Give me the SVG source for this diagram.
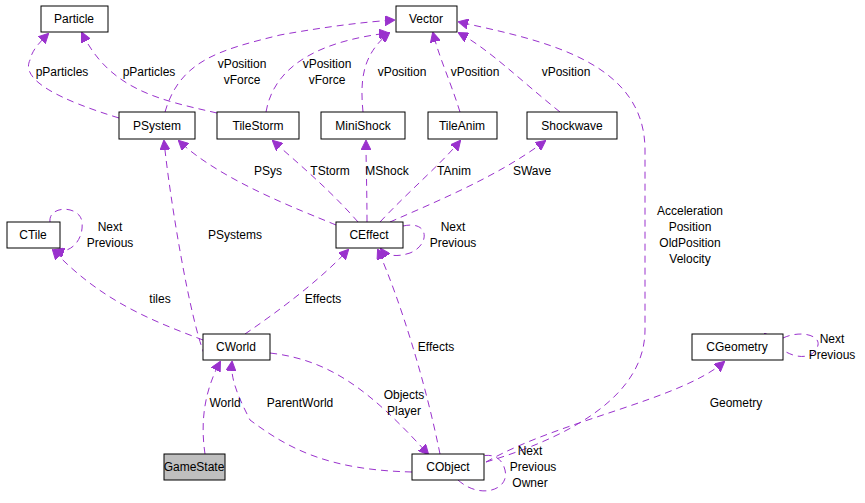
<svg xmlns="http://www.w3.org/2000/svg" width="865" height="503" viewBox="0 0 865 503">
<style>
.n rect{fill:#fff;stroke:#000;stroke-width:1}
.n text,.l{font-family:"Liberation Sans",Arial,sans-serif;font-size:12px;fill:#000}
.n text{text-anchor:middle}
.l{text-anchor:middle}
.e path{fill:none;stroke:#9a32cd;stroke-width:1;stroke-dasharray:7,5;marker-end:url(#a)}
</style>
<defs><marker id="a" markerWidth="10" markerHeight="10" refX="9" refY="5" orient="auto" markerUnits="userSpaceOnUse"><path d="M0,0 L10,5 L0,10 z" fill="#9a32cd" stroke="#9a32cd"/></marker></defs>
<rect width="865" height="503" fill="#fff"/>
<g class="e">
<path d="M119,118 C60,100 20,80 30,60 C32,50 40,42 48,34"/>
<path d="M217,113 C160,100 110,90 82,33"/>
<path d="M165,112 C180,60 220,50 280,35 C330,26 365,22 394,20"/>
<path d="M266,112 C275,60 330,40 388,33"/>
<path d="M363,112 C360,80 362,55 389,33"/>
<path d="M460,112 C450,80 440,60 433,33"/>
<path d="M560,112 C520,80 490,50 459,33"/>
<path d="M336,225 C300,210 220,180 179,141"/>
<path d="M358,222 C330,190 300,165 273,141"/>
<path d="M367,222 C367,190 366,165 366,141"/>
<path d="M380,222 C410,190 440,165 460,141"/>
<path d="M390,222 C440,200 500,175 545,141"/>
<path d="M403,226 C430,220 430,245 410,253 C395,258 385,255 381,249"/>
<path d="M205,356 C190,320 170,200 164,141"/>
<path d="M245,334 C280,310 320,280 348,250"/>
<path d="M203,340 C150,320 100,300 53,250"/>
<path d="M50,222 C48,205 80,205 82,222 C84,240 70,255 55,250"/>
<path d="M440,454 C425,380 400,300 378,250"/>
<path d="M486,462 C560,440 645,400 645,330 L645,150 C645,60 540,40 459,22"/>
<path d="M486,462 C560,420 680,400 724,362"/>
<path d="M783,338 C800,330 820,335 818,345 C815,360 790,364 765,334"/>
<path d="M412,472 C330,470 290,450 250,420 C240,400 230,380 232,362"/>
<path d="M270,353 C330,360 370,390 428,454"/>
<path d="M205,454 C200,420 205,390 220,362"/>
<path d="M458,480 C480,500 510,490 505,470 C500,450 480,453 465,464"/>
</g>
<g class="l">
<text x="62" y="76">pParticles</text>
<text x="149" y="76">pParticles</text>
<text x="242" y="68">vPosition</text><text x="242" y="84">vForce</text>
<text x="327" y="68">vPosition</text><text x="327" y="84">vForce</text>
<text x="402" y="76">vPosition</text>
<text x="475" y="76">vPosition</text>
<text x="566" y="76">vPosition</text>
<text x="268" y="175">PSys</text>
<text x="330" y="175">TStorm</text>
<text x="387" y="175">MShock</text>
<text x="454" y="175">TAnim</text>
<text x="532" y="175">SWave</text>
<text x="453" y="231">Next</text><text x="453" y="247">Previous</text>
<text x="110" y="231">Next</text><text x="110" y="247">Previous</text>
<text x="235" y="239">PSystems</text>
<text x="160" y="303">tiles</text>
<text x="323" y="303">Effects</text>
<text x="690" y="215">Acceleration</text><text x="690" y="231">Position</text><text x="690" y="247">OldPosition</text><text x="690" y="263">Velocity</text>
<text x="436" y="351">Effects</text>
<text x="832" y="343">Next</text><text x="832" y="359">Previous</text>
<text x="404" y="399">Objects</text><text x="404" y="415">Player</text>
<text x="225" y="407">World</text>
<text x="300" y="407">ParentWorld</text>
<text x="736" y="407">Geometry</text>
<text x="530" y="455">Next</text><text x="533" y="471">Previous</text><text x="530" y="487">Owner</text>
</g>
<g id="Particle" class="n"><rect x="41" y="6" width="67" height="26"/><text x="74" y="23">Particle</text></g>
<g id="Vector" class="n"><rect x="396" y="6" width="61" height="26"/><text x="426" y="23">Vector</text></g>
<g id="PSystem" class="n"><rect x="119" y="112" width="76" height="27"/><text x="157" y="130">PSystem</text></g>
<g id="TileStorm" class="n"><rect x="217" y="112" width="82" height="27"/><text x="258" y="130">TileStorm</text></g>
<g id="MiniShock" class="n"><rect x="321" y="112" width="84" height="27"/><text x="363" y="130">MiniShock</text></g>
<g id="TileAnim" class="n"><rect x="428" y="112" width="69" height="27"/><text x="462" y="130">TileAnim</text></g>
<g id="Shockwave" class="n"><rect x="527" y="112" width="90" height="27"/><text x="572" y="130">Shockwave</text></g>
<g id="CTile" class="n"><rect x="7" y="222" width="53" height="26"/><text x="33" y="239">CTile</text></g>
<g id="CEffect" class="n"><rect x="336" y="222" width="67" height="26"/><text x="369" y="239">CEffect</text></g>
<g id="CWorld" class="n"><rect x="203" y="334" width="67" height="26"/><text x="236" y="351">CWorld</text></g>
<g id="CGeometry" class="n"><rect x="692" y="334" width="91" height="26"/><text x="737" y="351">CGeometry</text></g>
<g id="GameState" class="n"><rect x="164" y="454" width="61" height="26" style="fill:#bfbfbf"/><text x="194" y="471">GameState</text></g>
<g id="CObject" class="n"><rect x="412" y="454" width="72" height="26"/><text x="448" y="471">CObject</text></g>
</svg>
